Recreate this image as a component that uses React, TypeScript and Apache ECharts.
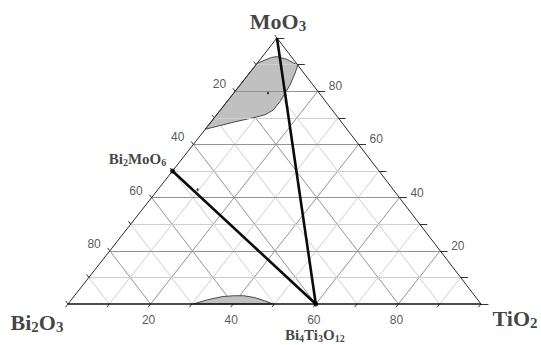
import React, { useEffect, useRef } from "react";
import * as echarts from "echarts";

// ternary composition: TiO2 (bottom axis), MoO3 (right axis), Bi2O3 = 100 - TiO2 - MoO3 (left axis)
const GRID_STEPS = [10, 20, 30, 40, 50, 60, 70, 80, 90];
const TICK_STEPS = [0, 10, 20, 30, 40, 50, 60, 70, 80, 90, 100];
const TICK_LABELS = [20, 40, 60, 80];
const SKEW = 0.506; // horizontal shift of the apex relative to the base

// grey region near MoO3
const topRegionTi = [0, 0, 2.4, 3.5, 6.4, 10.2, 11.1, 12.1, 12.5, 12.8, 12.8, 11.7, 9.8, 5.8];
const topRegionMo = [65.7, 90.5, 92.7, 93.0, 92.0, 89.8, 86.7, 82.3, 79.2, 76.1, 72.9, 71.1, 70.2, 68.5];

// grey hump on the Bi2O3–TiO2 side
const bottomRegionTi = [30.3, 33, 36, 38.5, 41, 44, 47, 49.7];
const bottomRegionMo = [0, 1.6, 2.8, 3.1, 3.1, 2.4, 1.2, 0];

// tie lines (from -> to)
const tieFromTi = [0, 0];
const tieFromMo = [50, 100];
const tieToTi = [60, 60];
const tieToMo = [0, 0];

// compounds
const compoundTi = [0, 60];
const compoundMo = [50, 0];

// experimental sample points
const sampleTi = [36, 48, 54, 9.6, 8.3];
const sampleMo = [40, 20, 10, 43, 79.3];

const SERIF = "'Liberation Serif', 'Times New Roman', serif";
const SANS = "'Liberation Sans', Arial, sans-serif";

const toXY = (ti: number, mo: number): number[] => [ti + SKEW * mo, mo];

const bigRich = {
  m: { fontFamily: SERIF, fontSize: 22, fontWeight: "bold", color: "#111", lineHeight: 24 },
  s: { fontFamily: SERIF, fontSize: 15, fontWeight: "bold", color: "#111", lineHeight: 14, verticalAlign: "bottom" },
};
const smallRich = {
  m: { fontFamily: SERIF, fontSize: 15, fontWeight: "bold", color: "#111", lineHeight: 16 },
  s: { fontFamily: SERIF, fontSize: 10, fontWeight: "bold", color: "#111", lineHeight: 9, verticalAlign: "bottom" },
};

export default function App() {
  const ref = useRef<HTMLDivElement>(null);

  useEffect(() => {
    if (!ref.current) return;
    const chart = echarts.init(ref.current, undefined, { renderer: "svg" });

    const DARK = "#939393";
    const LIGHT = "#cfcfcf";

    const gridDiag: any[] = [];
    const gridHoriz: any[] = [];
    GRID_STEPS.forEach((s) => {
      const color = s % 20 === 0 ? DARK : LIGHT;
      gridHoriz.push({ coords: [toXY(0, s), toXY(100 - s, s)], lineStyle: { color } });
      gridDiag.push({ coords: [toXY(s, 0), toXY(s, 100 - s)], lineStyle: { color } });
      gridDiag.push({ coords: [toXY(0, 100 - s), toXY(100 - s, 0)], lineStyle: { color } });
    });

    const RT = 1.8;
    const LT = 1.1;
    const BT = 1.2;
    const ticks: any[] = [];
    TICK_STEPS.forEach((s) => {
      ticks.push({ coords: [toXY(100 - s, s), toXY(100 - s + RT, s)] });
      ticks.push({ coords: [toXY(s, 0), toXY(s, -BT)] });
      ticks.push({ coords: [toXY(0, 100 - s), toXY(-LT, 100 - s + LT)] });
    });

    const edges = [
      { coords: [toXY(0, 0), toXY(0, 100)], lineStyle: { color: "#2a2a2a", width: 1 } },
      { coords: [toXY(100, 0), toXY(0, 100)], lineStyle: { color: "#2a2a2a", width: 1 } },
      { coords: [toXY(0, 0), toXY(100, 0)], lineStyle: { color: "#111", width: 1.6 } },
    ];

    const ties = tieFromTi.map((t, i) => ({
      coords: [toXY(t, tieFromMo[i]), toXY(tieToTi[i], tieToMo[i])],
    }));

    const regions = [
      { ti: topRegionTi, mo: topRegionMo },
      { ti: bottomRegionTi, mo: bottomRegionMo },
    ];

    const tickLabelData: any[] = [];
    TICK_LABELS.forEach((v) => {
      // bottom: TiO2
      tickLabelData.push({
        value: [...toXY(v, 0), v],
        label: { align: "center", offset: [-2, 16] },
      });
      // left: Bi2O3
      tickLabelData.push({
        value: [...toXY(0, 100 - v), v],
        label: { align: "right", offset: [-9, -7] },
      });
      // right: MoO3
      tickLabelData.push({
        value: [...toXY(100 - v, v), v],
        label: { align: "left", offset: [11, -5] },
      });
    });

    const nameData = [
      { value: toXY(0, 100), label: { formatter: "{m|MoO}{s|3}", rich: bigRich, offset: [1, -17] } },
      { value: toXY(0, 0), label: { formatter: "{m|Bi}{s|2}{m|O}{s|3}", rich: bigRich, offset: [-31, 18] } },
      { value: toXY(100, 0), label: { formatter: "{m|TiO}{s|2}", rich: bigRich, offset: [34, 14] } },
      {
        value: toXY(compoundTi[0], compoundMo[0]),
        label: { formatter: "{m|Bi}{s|2}{m|MoO}{s|6}", rich: smallRich, offset: [-35, -12] },
      },
      {
        value: toXY(compoundTi[1], compoundMo[1]),
        label: { formatter: "{m|Bi}{s|4}{m|Ti}{s|3}{m|O}{s|12}", rich: smallRich, offset: [-1, 31] },
      },
    ];

    chart.setOption({
      animation: false,
      backgroundColor: "#fff",
      grid: { left: 68, right: 60, top: 38, bottom: 41 },
      xAxis: { type: "value", min: 0, max: 100, show: false },
      yAxis: { type: "value", min: 0, max: 100, show: false },
      series: [
        {
          type: "lines",
          coordinateSystem: "cartesian2d",
          silent: true,
          clip: false,
          z: 1,
          lineStyle: { width: 1, opacity: 1 },
          data: gridDiag,
        },
        {
          type: "custom",
          coordinateSystem: "cartesian2d",
          silent: true,
          clip: false,
          z: 2,
          data: regions.map((_, i) => [i, 0]),
          renderItem: (params: any, api: any) => {
            const r = regions[params.dataIndex];
            const pts = r.ti.map((t, k) => api.coord(toXY(t, r.mo[k])));
            return {
              type: "polygon",
              shape: { points: pts },
              style: { fill: "#c0c0c0", stroke: "#4a4a4a", lineWidth: 1 },
            };
          },
        },
        {
          type: "lines",
          coordinateSystem: "cartesian2d",
          silent: true,
          clip: false,
          z: 3,
          lineStyle: { width: 1, opacity: 1 },
          data: gridHoriz,
        },
        {
          type: "lines",
          coordinateSystem: "cartesian2d",
          silent: true,
          clip: false,
          z: 4,
          lineStyle: { width: 1, color: "#333", opacity: 1 },
          data: ticks,
        },
        {
          type: "lines",
          coordinateSystem: "cartesian2d",
          silent: true,
          clip: false,
          z: 5,
          lineStyle: { opacity: 1 },
          data: edges,
        },
        {
          type: "lines",
          coordinateSystem: "cartesian2d",
          silent: true,
          clip: false,
          z: 6,
          lineStyle: { width: 2.6, color: "#0a0a0a", opacity: 1 },
          data: ties,
        },
        {
          type: "scatter",
          silent: true,
          clip: false,
          z: 7,
          symbol: "circle",
          symbolSize: 5,
          itemStyle: { color: "#000" },
          data: compoundTi.map((t, i) => toXY(t, compoundMo[i])),
        },
        {
          type: "scatter",
          silent: true,
          clip: false,
          z: 7,
          symbol: "circle",
          symbolSize: 2.5,
          itemStyle: { color: "#222" },
          data: sampleTi.map((t, i) => toXY(t, sampleMo[i])),
        },
        {
          type: "scatter",
          silent: true,
          clip: false,
          z: 8,
          symbolSize: 0,
          label: {
            show: true,
            position: "inside",
            fontFamily: SANS,
            fontSize: 12,
            color: "#2a2a2a",
            formatter: (p: any) => String(p.value[2]),
          },
          data: tickLabelData,
        },
        {
          type: "scatter",
          silent: true,
          clip: false,
          z: 8,
          symbolSize: 0,
          label: { show: true, position: "inside", align: "center" },
          data: nameData,
        },
      ],
    });

    return () => chart.dispose();
  }, []);

  return (
    <div
      ref={ref}
      style={{ position: "fixed", left: 0, top: 0, width: 541, height: 345, background: "#fff" }}
    />
  );
}
